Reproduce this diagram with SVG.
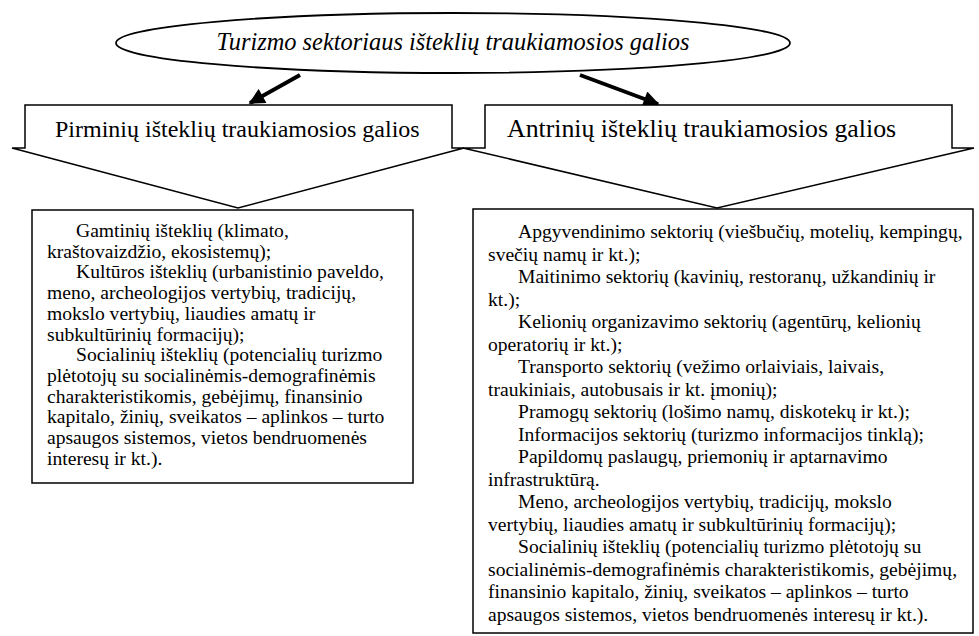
<svg xmlns="http://www.w3.org/2000/svg" width="979" height="636" viewBox="0 0 979 636">
  <style>
    .shape { fill: #ffffff; stroke: #000000; stroke-width: 1.5; }
    .title { font-family: "Liberation Serif", "Times New Roman", serif; font-style: italic; font-size: 24.4px; fill: #000; }
    .head { font-family: "Liberation Serif", "Times New Roman", serif; font-size: 24px; fill: #000; }
    .body { font-family: "Liberation Serif", "Times New Roman", serif; font-size: 19.6px; fill: #000; }
    .link { stroke: #000; stroke-width: 4; fill: none; }
  </style>
  <defs>
    <marker id="arrow" viewBox="0 0 10 10" refX="9" refY="5" markerWidth="4.2" markerHeight="4" orient="auto" markerUnits="strokeWidth">
      <path d="M0,0 L10,5 L0,10 Z" fill="#000"/>
    </marker>
  </defs>
  <rect width="979" height="636" fill="#ffffff"/>

  <!-- top ellipse -->
  <g id="root">
    <ellipse class="shape" cx="453" cy="43" rx="337" ry="30" style="stroke-width:1.8"/>
    <text class="title" x="453" y="50" text-anchor="middle">Turizmo sektoriaus išteklių traukiamosios galios</text>
  </g>

  <!-- connectors -->
  <g id="connectors">
    <line class="link" x1="300" y1="75" x2="250" y2="103" marker-end="url(#arrow)"/>
    <line class="link" x1="580" y1="75" x2="658" y2="104" marker-end="url(#arrow)"/>
  </g>

  <!-- primary resources callout -->
  <g id="primary-head">
    <path class="shape" d="M25,105 H452 V148 H464 L238,208 L12,148 H25 Z"/>
    <text class="head" x="55" y="137">Pirminių išteklių traukiamosios galios</text>
  </g>

  <!-- secondary resources callout -->
  <g id="secondary-head">
    <path class="shape" d="M485,105 H952 V148 H974 L717,208 L463,148 H485 Z"/>
    <text class="head" x="507" y="137" style="font-size:25.8px">Antrinių išteklių traukiamosios galios</text>
  </g>

  <!-- primary resources list -->
  <g id="primary-list">
    <rect class="shape" x="32" y="210" width="381" height="273"/>
    <text class="body">
      <tspan x="76" y="237">Gamtinių išteklių (klimato,</tspan>
      <tspan x="47" y="257.7">kraštovaizdžio, ekosistemų);</tspan>
      <tspan x="76" y="278.4">Kultūros išteklių (urbanistinio paveldo,</tspan>
      <tspan x="47" y="299.1">meno, archeologijos vertybių, tradicijų,</tspan>
      <tspan x="47" y="319.8">mokslo vertybių, liaudies amatų ir</tspan>
      <tspan x="47" y="340.5">subkultūrinių formacijų);</tspan>
      <tspan x="76" y="361.2">Socialinių išteklių (potencialių turizmo</tspan>
      <tspan x="47" y="381.9">plėtotojų su socialinėmis-demografinėmis</tspan>
      <tspan x="47" y="402.6">charakteristikomis, gebėjimų, finansinio</tspan>
      <tspan x="47" y="423.3">kapitalo, žinių, sveikatos – aplinkos – turto</tspan>
      <tspan x="47" y="444">apsaugos sistemos, vietos bendruomenės</tspan>
      <tspan x="47" y="464.7">interesų ir kt.).</tspan>
    </text>
  </g>

  <!-- secondary resources list -->
  <g id="secondary-list">
    <rect class="shape" x="473" y="209" width="500" height="424"/>
    <text class="body">
      <tspan x="518" y="238">Apgyvendinimo sektorių (viešbučių, motelių, kempingų,</tspan>
      <tspan x="488" y="260.5">svečių namų ir kt.);</tspan>
      <tspan x="518" y="283">Maitinimo sektorių (kavinių, restoranų, užkandinių ir</tspan>
      <tspan x="488" y="305.5">kt.);</tspan>
      <tspan x="518" y="328">Kelionių organizavimo sektorių (agentūrų, kelionių</tspan>
      <tspan x="488" y="350.5">operatorių ir kt.);</tspan>
      <tspan x="518" y="373">Transporto sektorių (vežimo orlaiviais, laivais,</tspan>
      <tspan x="488" y="395.5">traukiniais, autobusais ir kt. įmonių);</tspan>
      <tspan x="518" y="418">Pramogų sektorių (lošimo namų, diskotekų ir kt.);</tspan>
      <tspan x="518" y="440.5">Informacijos sektorių (turizmo informacijos tinklą);</tspan>
      <tspan x="518" y="463">Papildomų paslaugų, priemonių ir aptarnavimo</tspan>
      <tspan x="488" y="485.5">infrastruktūrą.</tspan>
      <tspan x="518" y="508">Meno, archeologijos vertybių, tradicijų, mokslo</tspan>
      <tspan x="488" y="530.5">vertybių, liaudies amatų ir subkultūrinių formacijų);</tspan>
      <tspan x="518" y="553">Socialinių išteklių (potencialių turizmo plėtotojų su</tspan>
      <tspan x="488" y="575.5">socialinėmis-demografinėmis charakteristikomis, gebėjimų,</tspan>
      <tspan x="488" y="598">finansinio kapitalo, žinių, sveikatos – aplinkos – turto</tspan>
      <tspan x="488" y="620.5">apsaugos sistemos, vietos bendruomenės interesų ir kt.).</tspan>
    </text>
  </g>
</svg>
